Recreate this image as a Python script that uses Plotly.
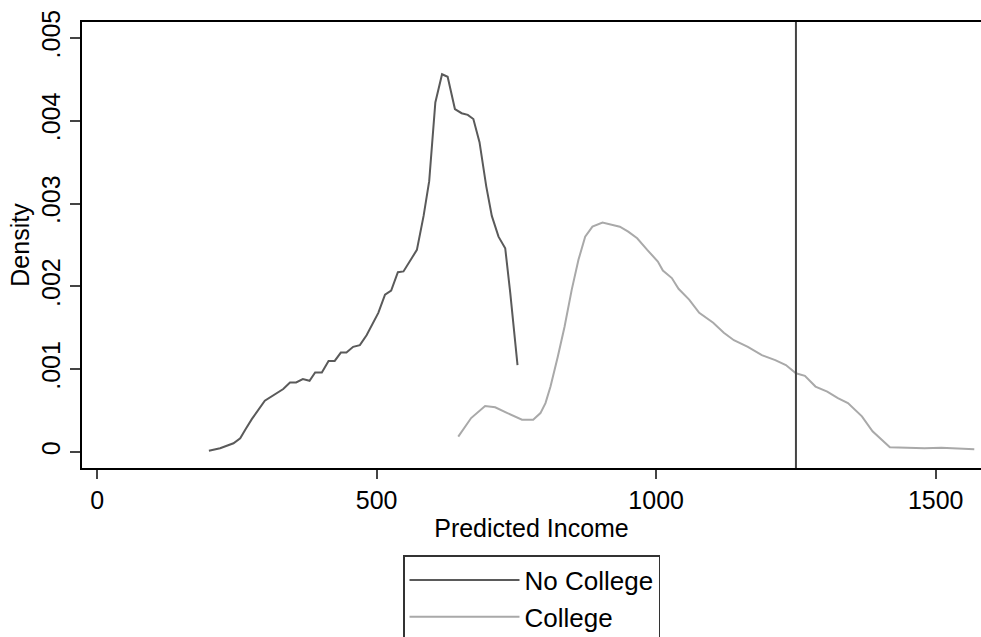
import plotly.graph_objects as go

# ---- data ----
no_college_x = [200, 220, 244, 256, 265, 277, 300, 312, 333, 345, 356, 368, 380, 390, 402, 414, 425,
                436, 446, 458, 470, 482, 503, 515, 526, 538, 548, 572, 584, 594, 605, 617, 627, 640,
                652, 663, 673, 684, 696, 706, 718, 730, 739, 752]
no_college_y = [0.000016, 0.000045, 0.000105, 0.000165, 0.00027, 0.0004, 0.00062, 0.00067, 0.00076,
                0.00084, 0.00084, 0.00088, 0.00086, 0.00096, 0.00096, 0.0011, 0.0011, 0.0012, 0.0012,
                0.00127, 0.00129, 0.00141, 0.00168, 0.0019, 0.00195, 0.00217, 0.00218, 0.00244,
                0.00285, 0.00327, 0.00422, 0.00456, 0.00453, 0.00414, 0.00409, 0.00407, 0.00402,
                0.00374, 0.00321, 0.00285, 0.0026, 0.00246, 0.00192, 0.00105]

college_x = [646, 669, 694, 712, 734, 746, 760, 780, 793, 802, 811, 824, 836, 849, 861, 873, 886,
             904, 923, 935, 950, 966, 984, 1003, 1012, 1028, 1040, 1059, 1077, 1102, 1121, 1139,
             1164, 1189, 1213, 1232, 1250, 1266, 1285, 1306, 1325, 1343, 1368, 1387, 1418, 1480,
             1510, 1569]
college_y = [0.000185, 0.00041, 0.000555, 0.00054, 0.00047, 0.000435, 0.00039, 0.00039, 0.00047,
             0.00059, 0.00079, 0.00115, 0.00151, 0.00196, 0.00232, 0.0026, 0.00272, 0.00277,
             0.00274, 0.00272, 0.00266, 0.00258, 0.00244, 0.0023, 0.00219, 0.0021, 0.00197,
             0.00184, 0.00168, 0.00156, 0.00144, 0.00135, 0.00127, 0.00117, 0.00111, 0.00105,
             0.00095, 0.00092, 0.00079, 0.00073, 0.00065, 0.00059, 0.00043, 0.00025, 0.000057,
             0.000045, 0.00005, 0.000033]

cutoff_x = 1250

x_tickvals = [0, 500, 1000, 1500]
x_ticktext = ["0", "500", "1000", "1500"]
y_tickvals = [0, 0.001, 0.002, 0.003, 0.004, 0.005]
y_ticktext = ["0", ".001", ".002", ".003", ".004", ".005"]

FONT = "Liberation Sans, Arial, sans-serif"

fig = go.Figure()
fig.add_trace(go.Scatter(x=no_college_x, y=no_college_y, mode="lines", name="No College",
                         line=dict(color="#5a5a5a", width=2)))
fig.add_trace(go.Scatter(x=college_x, y=college_y, mode="lines", name="College",
                         line=dict(color="#a9a9a9", width=2)))

fig.add_shape(type="line", x0=cutoff_x, x1=cutoff_x, y0=0, y1=1, xref="x", yref="paper",
              line=dict(color="#444444", width=2))

fig.update_layout(
    width=981, height=637,
    margin=dict(l=82, r=0, t=22, b=169, autoexpand=False),
    paper_bgcolor="white", plot_bgcolor="white",
    font=dict(family=FONT, size=25, color="black"),
    showlegend=True,
    legend=dict(
        x=(403 - 82) / 899, y=-(555 - 468) / 446, xanchor="left", yanchor="top",
        bordercolor="#333333", borderwidth=1.5,
        font=dict(size=26, family=FONT, color="black"),
        itemwidth=110, tracegroupgap=0,
        bgcolor="white",
    ),
    xaxis=dict(
        range=[-27, 1581], tickvals=x_tickvals, ticktext=x_ticktext,
        showgrid=False, zeroline=False,
        showline=True, linecolor="black", linewidth=2, mirror=True,
        ticks="outside", ticklen=9, tickwidth=1.5, tickcolor="#444444",
        tickfont=dict(size=25, family=FONT),
        title=dict(text="Predicted Income", font=dict(size=25, family=FONT), standoff=0),
    ),
    yaxis=dict(
        range=[-0.000193, 0.005191], tickvals=y_tickvals, ticktext=y_ticktext,
        showgrid=False, zeroline=False,
        showline=True, linecolor="black", linewidth=2,
        ticks="outside", ticklen=10, tickwidth=1.5, tickcolor="#444444",
        tickangle=-90,
        tickfont=dict(size=25, family=FONT),
        title=dict(text="Density", font=dict(size=25, family=FONT), standoff=0),
    ),
)

fig.write_html("out.html", config={"displayModeBar": False},
               post_script="document.body.style.margin='0';document.body.style.overflow='hidden';")
